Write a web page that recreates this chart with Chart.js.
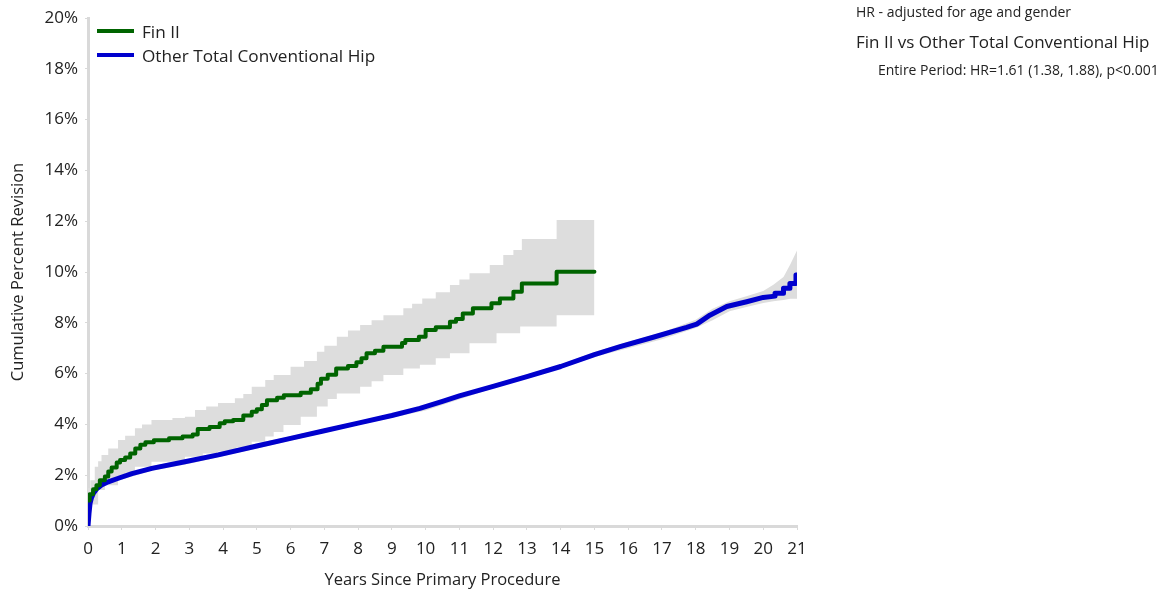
<!DOCTYPE html>
<html>
<head>
<meta charset="utf-8">
<script src="https://cdn.jsdelivr.net/npm/chart.js@4.4.1/dist/chart.umd.min.js"></script>
<style>
  body { margin: 0; background: #fff; font-family: "Open Sans", sans-serif; color: #222; }
  #wrap { position: relative; width: 1171px; height: 591px; }
  #legend { position: absolute; left: 97px; top: 19px; font-size: 17.2px; }
  #legend div { display: flex; align-items: center; height: 24px; }
  #legend span.sw { display: inline-block; width: 37px; height: 4px; margin-right: 8px; }
  #note { position: absolute; left: 856px; top: 2px; }
  #note .a { font-size: 14px; height: 22px; }
  #note .b { font-size: 17px; height: 30px; line-height: 36px; }
  #note .c { font-size: 14px; padding-left: 22px; line-height: 32px; }
</style>
</head>
<body>
<div id="wrap">
  <canvas id="km" width="1171" height="591"></canvas>
  <div id="legend">
    <div><span class="sw" style="background:#006400"></span>Fin II</div>
    <div><span class="sw" style="background:#0000cd"></span>Other Total Conventional Hip</div>
  </div>
  <div id="note">
    <div class="a">HR - adjusted for age and gender</div>
    <div class="b">Fin II vs Other Total Conventional Hip</div>
    <div class="c">Entire Period: HR=1.61 (1.38, 1.88), p&lt;0.001</div>
  </div>
</div>
<script>
// Fin II – Kaplan-Meier steps (years, %)
const finT   = [0, 0.05, 0.15, 0.25, 0.35, 0.5, 0.6, 0.7, 0.85, 0.95, 1.1, 1.25, 1.4, 1.55, 1.7, 1.95, 2.4, 2.8, 3.1, 3.25, 3.6, 3.9, 4.05, 4.3, 4.6, 4.85, 5.0, 5.15, 5.3, 5.6, 5.8, 6.3, 6.6, 6.8, 6.9, 7.1, 7.35, 7.7, 7.95, 8.1, 8.25, 8.5, 8.75, 9.3, 9.4, 9.8, 10.0, 10.3, 10.72, 10.9, 11.1, 11.4, 11.95, 12.2, 12.6, 12.85, 13.88, 15.0];
const finVal = [1.0, 1.25, 1.45, 1.6, 1.8, 1.95, 2.15, 2.3, 2.5, 2.6, 2.7, 2.85, 3.05, 3.2, 3.3, 3.38, 3.45, 3.52, 3.6, 3.82, 3.9, 4.05, 4.12, 4.17, 4.35, 4.5, 4.6, 4.76, 4.95, 5.05, 5.15, 5.25, 5.38, 5.6, 5.8, 5.95, 6.2, 6.3, 6.45, 6.6, 6.8, 6.9, 7.06, 7.2, 7.32, 7.45, 7.72, 7.82, 8.04, 8.15, 8.37, 8.57, 8.77, 8.96, 9.22, 9.55, 10.01, 10.01];

const finUpT = [0, 0.07, 0.2, 0.3, 0.4, 0.6, 0.89, 1.1, 1.39, 1.6, 1.88, 2.5, 2.87, 3.17, 3.5, 3.85, 4.35, 4.6, 4.85, 5.25, 5.5, 6.0, 6.4, 6.78, 7.0, 7.37, 7.7, 8.06, 8.4, 8.75, 9.34, 9.6, 9.9, 10.3, 10.72, 11.0, 11.3, 11.9, 12.3, 12.6, 12.85, 13.88, 15.0];
const finUp  = [1.5, 1.8, 2.33, 2.55, 2.8, 3.05, 3.39, 3.55, 3.85, 4.0, 4.17, 4.25, 4.3, 4.57, 4.7, 4.84, 5.03, 5.2, 5.48, 5.75, 5.94, 6.27, 6.5, 6.86, 7.1, 7.45, 7.7, 7.91, 8.1, 8.3, 8.57, 8.75, 8.96, 9.2, 9.49, 9.7, 9.95, 10.28, 10.67, 10.87, 11.3, 12.05, 12.05];

const finLoT = [0, 0.1, 0.3, 0.5, 0.89, 1.1, 1.39, 1.88, 2.87, 3.4, 3.85, 4.4, 4.85, 5.25, 5.5, 5.79, 6.3, 6.78, 7.1, 7.37, 8.06, 8.4, 8.75, 9.34, 9.83, 10.3, 10.72, 11.3, 12.1, 12.8, 13.88, 15.0];
const finLo  = [0.8, 0.85, 1.42, 1.6, 1.94, 2.1, 2.33, 2.53, 2.73, 2.85, 2.93, 3.1, 3.32, 3.52, 3.7, 3.98, 4.3, 4.7, 5.0, 5.22, 5.48, 5.7, 5.94, 6.2, 6.35, 6.6, 6.8, 7.19, 7.59, 7.85, 8.3, 8.3];

// Other Total Conventional Hip
const othT   = [0, 0.03, 0.06, 0.1, 0.16, 0.25, 0.4, 0.6, 0.9, 1.3, 1.89, 2.87, 3.86, 5, 6, 7, 8, 9, 9.83, 10.5, 11, 12, 13, 14, 15, 15.76, 16.74, 17.73, 18.03, 18.42, 18.92, 19.51, 20.0, 20.35, 20.35, 20.6, 20.6, 20.79, 20.79, 20.97, 20.97, 21];
const othVal = [0, 0.5, 0.89, 1.1, 1.29, 1.45, 1.61, 1.74, 1.88, 2.06, 2.27, 2.53, 2.8, 3.15, 3.45, 3.75, 4.05, 4.35, 4.63, 4.91, 5.12, 5.5, 5.88, 6.28, 6.75, 7.06, 7.43, 7.82, 7.95, 8.3, 8.64, 8.83, 9.0, 9.05, 9.16, 9.16, 9.36, 9.36, 9.55, 9.55, 9.88, 9.88];

const othBandT = [0, 0.03, 0.06, 0.1, 0.16, 0.25, 0.4, 0.6, 1, 1.89, 3, 5, 8, 10, 12, 14, 15, 16, 17, 18, 18.5, 19, 19.5, 20, 20.3, 20.6, 20.8, 21];
const othUp    = [0, 0.55, 0.95, 1.17, 1.36, 1.52, 1.69, 1.82, 1.99, 2.36, 2.65, 3.25, 4.12, 4.72, 5.58, 6.36, 6.85, 7.25, 7.62, 8.12, 8.55, 8.85, 9.05, 9.25, 9.5, 9.8, 10.3, 10.85];
const othLo    = [0, 0.45, 0.83, 1.03, 1.22, 1.38, 1.53, 1.66, 1.83, 2.18, 2.45, 3.05, 3.98, 4.55, 5.42, 6.2, 6.65, 7.0, 7.35, 7.8, 8.1, 8.45, 8.62, 8.78, 8.85, 8.9, 8.95, 8.95];

const xTicks = [0, 1, 2, 3, 4, 5, 6, 7, 8, 9, 10, 11, 12, 13, 14, 15, 16, 17, 18, 19, 20, 21];
const yTicks = [0, 2, 4, 6, 8, 10, 12, 14, 16, 18, 20];

const pts = (xs, ys) => xs.map((x, i) => ({ x: x, y: ys[i] }));
const band = '#dddddd';
const axisGrey = '#d9d9d9';
const font = { family: 'Open Sans', size: 17 };

new Chart(document.getElementById('km').getContext('2d'), {
  type: 'line',
  data: {
    datasets: [
      { label: 'Fin II', data: pts(finT, finVal), stepped: true, borderColor: '#006400', borderWidth: 4, borderJoinStyle: 'round', borderCapStyle: 'round', pointRadius: 0, fill: false },
      { label: 'Other Total Conventional Hip', data: pts(othT, othVal), borderColor: '#0000cd', borderWidth: 5, borderJoinStyle: 'round', borderCapStyle: 'round', pointRadius: 0, fill: false, tension: 0 },
      { label: 'finUp', data: pts(finUpT, finUp), stepped: true, borderWidth: 0, pointRadius: 0, backgroundColor: band, fill: 3 },
      { label: 'finLo', data: pts(finLoT, finLo), stepped: true, borderWidth: 0, pointRadius: 0, fill: false },
      { label: 'othUp', data: pts(othBandT, othUp), borderWidth: 0, pointRadius: 0, backgroundColor: band, fill: 5 },
      { label: 'othLo', data: pts(othBandT, othLo), borderWidth: 0, pointRadius: 0, fill: false }
    ]
  },
  options: {
    responsive: false,
    maintainAspectRatio: false,
    animation: false,
    layout: { padding: { left: 0, right: 374, top: 18, bottom: 0 } },
    plugins: { legend: { display: false }, tooltip: { enabled: false } },
    scales: {
      x: {
        type: 'linear', min: 0, max: 21,
        afterBuildTicks: s => { s.ticks = xTicks.map(v => ({ value: v })); },
        afterFit: s => { s.height = 65; },
        grid: { drawOnChartArea: false, drawTicks: true, tickLength: 4, color: axisGrey },
        border: { display: true, color: axisGrey, width: 3 },
        ticks: { color: '#222', font: font, padding: 9, maxRotation: 0 },
        title: { display: true, text: 'Years Since Primary Procedure', color: '#222', font: { family: 'Open Sans', size: 16.5 }, padding: { top: 0, bottom: 1 } }
      },
      y: {
        min: 0, max: 20,
        afterBuildTicks: s => { s.ticks = yTicks.map(v => ({ value: v })); },
        afterFit: s => { s.width = 88; },
        grid: { drawOnChartArea: false, drawTicks: true, tickLength: 3, color: axisGrey },
        border: { display: true, color: axisGrey, width: 3 },
        ticks: { color: '#222', font: font, padding: 7, callback: v => v + '%' },
        title: { display: true, text: 'Cumulative Percent Revision', color: '#222', font: { family: 'Open Sans', size: 16.5 }, padding: { top: 8, bottom: 4 } }
      }
    }
  }
});
</script>
</body>
</html>
